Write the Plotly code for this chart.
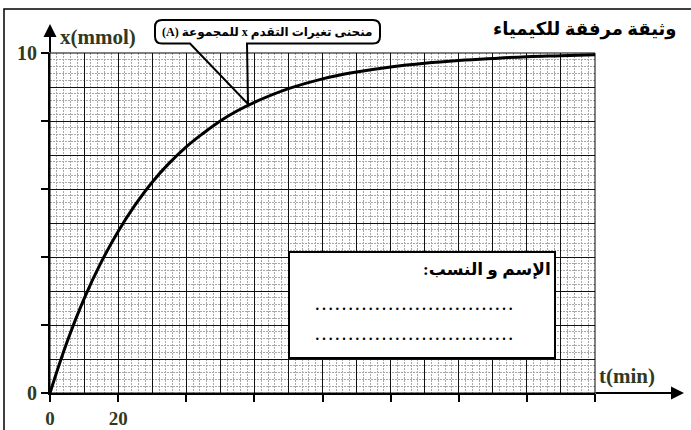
import plotly.graph_objects as go

# ---- data ----
t_min = [0, 5, 10, 15, 20, 25, 30, 35, 40, 45, 50, 55, 60, 70, 80, 90, 100, 110, 120, 130, 140, 150, 160]
x_mmol = [0, 1.5, 2.77, 3.84, 4.75, 5.53, 6.2, 6.76, 7.24, 7.64, 8.0, 8.3, 8.55, 8.95, 9.24, 9.44, 9.59, 9.7, 9.78, 9.84, 9.89, 9.92, 9.95]

x_tickvals = [0, 20, 40, 60, 80, 100, 120, 140, 160]
x_ticktext = ["0", "20", "", "", "", "", "", "", ""]
y_tickvals = [0, 2, 4, 6, 8, 10]
y_ticktext = ["0", "", "", "", "", "10"]

title_text = "وثيقة مرفقة للكيمياء"
callout_main = "منحنى تغيرات التقدم x للمجموعة "
callout_group = "(A)"
name_text = "الإسم و النسب:"
dots_text = "…" * 10
x_label = "x(mmol)"
t_label = "t(min)"

RLE, LRE, PDF = "\u202B", "\u202A", "\u202C"

# ---- layout geometry (pixels) ----
W, H = 691, 430
L, R, T, B = 50, 96, 53, 37
PW, PH = W - L - R, H - T - B


def PX(x):
    return (x - L) / PW


def PY(y):
    return (H - B - y) / PH


OLIVE = "#2f3a1e"
SERIF = "Liberation Serif, Times New Roman, serif"
AR = "Liberation Serif, DejaVu Sans, sans-serif"

fig = go.Figure()
fig.add_trace(go.Scatter(x=t_min, y=x_mmol, mode="lines",
                         line=dict(color="black", width=3, shape="spline", smoothing=1.2),
                         hoverinfo="skip", showlegend=False))
# invisible trace to carry the tick axes
fig.add_trace(go.Scatter(x=[t_min[0]], y=[x_mmol[0]], xaxis="x2", yaxis="y2", mode="markers",
                         marker=dict(opacity=0), hoverinfo="skip", showlegend=False))

MINOR = "#a8a8a8"
fig.update_layout(
    width=W, height=H,
    margin=dict(l=L, r=R, t=T, b=B, autoexpand=False),
    paper_bgcolor="white", plot_bgcolor="white",
    xaxis=dict(range=[0, 160], tickvals=list(range(0, 161, 10)), showticklabels=False, ticks="",
               showgrid=True, gridcolor="#111", gridwidth=1, zeroline=False,
               showline=True, linecolor="black", linewidth=2,
               minor=dict(tickvals=[v for v in range(0, 161, 2) if v % 10], showgrid=True,
                          gridcolor=MINOR, griddash="2px,1px", gridwidth=1, ticks="")),
    yaxis=dict(range=[0, 10], tickvals=list(range(0, 11)), showticklabels=False, ticks="",
               showgrid=True, gridcolor="#111", gridwidth=1, zeroline=False,
               showline=True, linecolor="black", linewidth=2,
               minor=dict(tickvals=[v / 10 for v in range(0, 101, 2) if v % 10], showgrid=True,
                          gridcolor=MINOR, griddash="2px,1px", gridwidth=1, ticks="")),
    xaxis2=dict(range=[0, 160], overlaying="x", anchor="y2", side="bottom",
                tickvals=x_tickvals, ticktext=["<b>%s</b>" % t for t in x_ticktext],
                ticks="outside", ticklen=8, tickwidth=2, tickcolor="black",
                tickfont=dict(family=SERIF, size=19, color=OLIVE),
                showgrid=False, zeroline=False, showline=False),
    yaxis2=dict(range=[0, 10], overlaying="y", anchor="x2", side="left",
                tickvals=y_tickvals, ticktext=["<b>%s</b>" % t for t in y_ticktext],
                ticks="outside", ticklen=8, tickwidth=2, tickcolor="black",
                tickfont=dict(family=SERIF, size=20, color=OLIVE),
                showgrid=False, zeroline=False, showline=False),
)

shapes = []
# plot box border
shapes.append(dict(type="rect", xref="paper", yref="paper", x0=0, x1=1, y0=0, y1=1,
                   line=dict(color="black", width=1), layer="above"))
# outer page frame (only left and top edges visible)
shapes.append(dict(type="rect", xref="paper", yref="paper", x0=PX(4), x1=PX(720), y0=PY(460), y1=PY(9),
                   line=dict(color="black", width=1.5), layer="above"))

# callout with pointer
x0, x1, y0, y1, r = 155, 380, 20, 43.5, 7
tip = (248, 104)
pl, pr = 190, 247


def P(x, y):
    return "%.5f,%.5f" % (PX(x), PY(y))


path = ("M " + P(x0 + r, y0) + " L " + P(x1 - r, y0) + " Q " + P(x1, y0) + " " + P(x1, y0 + r) +
        " L " + P(x1, y1 - r) + " Q " + P(x1, y1) + " " + P(x1 - r, y1) +
        " L " + P(pr, y1) + " L " + P(*tip) + " L " + P(pl, y1) +
        " L " + P(x0 + r, y1) + " Q " + P(x0, y1) + " " + P(x0, y1 - r) +
        " L " + P(x0, y0 + r) + " Q " + P(x0, y0) + " " + P(x0 + r, y0) + " Z")
shapes.append(dict(type="path", xref="paper", yref="paper", path=path,
                   line=dict(color="black", width=2), fillcolor="rgba(0,0,0,0)", layer="above"))

# name box
shapes.append(dict(type="rect", xref="paper", yref="paper", x0=PX(289), x1=PX(555), y0=PY(358), y1=PY(252),
                   line=dict(color="black", width=2), fillcolor="white", layer="above"))
fig.update_layout(shapes=shapes)

ann = []
# axis arrows
ann.append(dict(xref="paper", yref="paper", x=PX(50), y=PY(24), ax=0, ay=30, text="", showarrow=True,
                arrowhead=2, arrowsize=1.3, arrowwidth=2, arrowcolor="black"))
ann.append(dict(xref="paper", yref="paper", x=PX(684), y=PY(393), ax=-90, ay=0, text="", showarrow=True,
                arrowhead=2, arrowsize=1.3, arrowwidth=2, arrowcolor="black"))
# axis labels
ann.append(dict(xref="paper", yref="paper", x=PX(98), y=PY(37), text="<b>%s</b>" % x_label, showarrow=False,
                font=dict(family=SERIF, size=21, color=OLIVE), xanchor="center", yanchor="middle"))
ann.append(dict(xref="paper", yref="paper", x=PX(627), y=PY(376), text="<b>%s</b>" % t_label, showarrow=False,
                font=dict(family=SERIF, size=21, color=OLIVE), xanchor="center", yanchor="middle"))
# title (pure Arabic, no bidi controls needed)
ann.append(dict(xref="paper", yref="paper", x=PX(678), y=PY(29), text="<b>%s</b>" % title_text,
                showarrow=False, font=dict(family=AR, size=18, color="black"), xanchor="right", yanchor="middle"))
# callout text
callout_text = RLE + callout_main + LRE + callout_group + PDF + PDF
ann.append(dict(xref="paper", yref="paper", x=PX(267), y=PY(32), text="<b>%s</b>" % callout_text,
                showarrow=False, font=dict(family=AR, size=12, color="black"), xanchor="center", yanchor="middle"))
# name box text
ann.append(dict(xref="paper", yref="paper", x=PX(553), y=PY(270), text="<b>%s%s%s</b>" % (RLE, name_text, PDF),
                showarrow=False, font=dict(family=AR, size=17, color="black"), xanchor="right", yanchor="middle"))
for yy in (303, 333):
    ann.append(dict(xref="paper", yref="paper", x=PX(414), y=PY(yy), text=dots_text,
                    showarrow=False, font=dict(family=SERIF, size=20, color="black"),
                    xanchor="center", yanchor="middle"))
fig.update_layout(annotations=ann)

fig.write_html("out.html")
